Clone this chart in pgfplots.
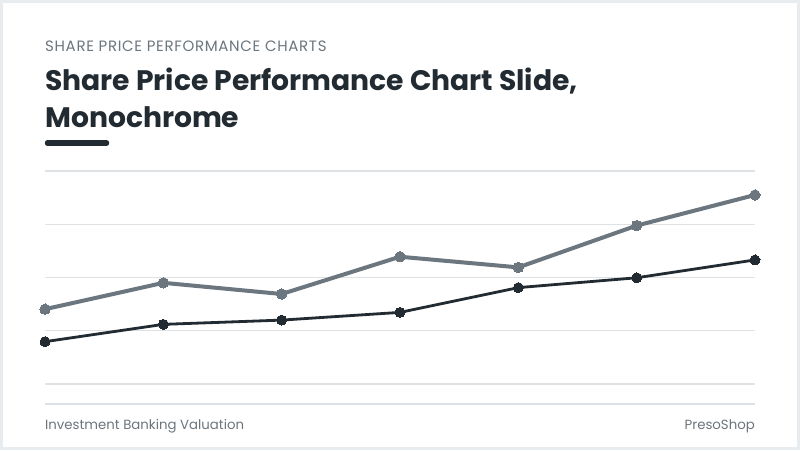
\documentclass[border=0pt]{standalone}
\usepackage{fontspec}
\setmainfont{Poppins}
\usepackage{pgfplots}
\pgfplotsset{compat=1.18}

\definecolor{frame}{HTML}{E9ECEF}
\definecolor{ink}{HTML}{212B31}
\definecolor{slate}{HTML}{6C767E}
\definecolor{gridc}{HTML}{DFE2E5}
\definecolor{foot}{HTML}{6C757D}

\begin{document}
\begin{tikzpicture}[x=1pt,y=1pt]
  \useasboundingbox (0,0) rectangle (800,450);
  \fill[frame] (0,0) rectangle (800,450);
  \fill[white] (3,3) rectangle (797,447);

  % heading
  \node[anchor=base west, inner sep=0pt, text=slate]
    at (45,398.3) {\fontsize{15}{18}\selectfont\addfontfeature{LetterSpace=4.5}SHARE PRICE PERFORMANCE CHARTS};
  \node[anchor=base west, inner sep=0pt, text=ink]
    at (45,359.3) {\fontsize{28.2}{37}\selectfont\bfseries Share Price Performance Chart Slide,};
  \node[anchor=base west, inner sep=0pt, text=ink]
    at (45,322.3) {\fontsize{28.2}{37}\selectfont\bfseries Monochrome};
  \draw[ink, line width=5.5pt, line cap=round] (47.5,307) -- (106.5,307);

  \begin{axis}[
    at={(45pt,66pt)}, anchor=origin,
    width=710pt, height=213pt, scale only axis,
    xmin=0, xmax=6, ymin=0, ymax=80,
    axis lines=none,
    xtick=\empty, ytick=\empty,
    clip=false,
  ]
    \foreach \yy in {0,20,40,60,80}{
      \edef\tmp{\noexpand\draw[gridc, line width=1.4pt] (axis cs:0,\yy) -- (axis cs:6,\yy);}
      \tmp
    }
    \draw[gridc, line width=1.4pt] (axis cs:0,-7.5) -- (axis cs:6,-7.5);

    \addplot[slate, line width=4pt, mark=*, mark size=5.2pt,
             mark options={fill=slate, draw=slate, line width=0pt}]
      coordinates {(0,28.1) (1,38.0) (2,33.8) (3,47.8) (4,43.8) (5,59.5) (6,71.0)};
    \addplot[ink, line width=2.8pt, mark=*, mark size=5pt,
             mark options={fill=ink, draw=ink, line width=0pt}]
      coordinates {(0,15.9) (1,22.4) (2,24.0) (3,26.9) (4,36.2) (5,39.9) (6,46.6)};
  \end{axis}

  % footer
  \node[anchor=base west, inner sep=0pt, text=foot]
    at (45,21) {\fontsize{13.3}{16}\selectfont Investment Banking Valuation};
  \node[anchor=base east, inner sep=0pt, text=foot]
    at (755,21) {\fontsize{13.3}{16}\selectfont PresoShop};
\end{tikzpicture}
\end{document}
